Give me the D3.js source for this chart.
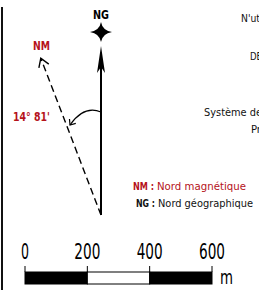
<!DOCTYPE html>
<html>
<head>
<meta charset="utf-8">
<script src="https://cdn.jsdelivr.net/npm/d3@7"></script>
<style>
  body { margin: 0; background: #fff; }
  text { font-family: "DejaVu Sans Condensed", "Liberation Sans Narrow", "Noto Sans", sans-serif; }
</style>
</head>
<body>
<svg id="chart"></svg>
<script>
// scale bar
const SCALE_TICKS = [0, 200, 400, 600];
const SCALE_UNIT = 'm';
const SCALE_FILL = ['black', 'white', 'black'];

// compass
const NORTH_LABELS = ['NG', 'NM'];
const DECLINATION_DEG = 21;       // drawn angle of the NM arrow
const DECLINATION_TEXT = "14° 81'";

// legend
const LEGEND_KEYS = ['NM :', 'NG :'];
const LEGEND_TEXT = ['Nord magnétique', 'Nord géographique'];

// cut off text on the right side
const SIDE_TEXT = ["N'utilisez", 'DE', 'Système de', 'Pr'];

const W = 259, H = 290;
const RED = '#b5121b';

const svg = d3.select('#chart')
  .attr('width', W)
  .attr('height', H);

// squeeze a text to a width, the reference font is a condensed one
function squeeze(sel, w) {
  sel.attr('textLength', w).attr('lengthAdjust', 'spacingAndGlyphs');
}

// frame line on the left
svg.append('line')
  .attr('x1', 2).attr('x2', 2)
  .attr('y1', 7).attr('y2', H)
  .attr('stroke', '#111')
  .attr('stroke-width', 2);

// ---- compass ----
const origin = { x: 101, y: 215 };
const ngTop = 46;
const nmLen = 168;

const rad = d3.scaleLinear().domain([0, 180]).range([0, Math.PI]);
const a = rad(DECLINATION_DEG);
const nmTip = { x: origin.x - nmLen * Math.sin(a), y: origin.y - nmLen * Math.cos(a) };

const compass = svg.append('g');

// geographic north line + filled arrow
compass.append('line')
  .attr('x1', origin.x).attr('x2', origin.x)
  .attr('y1', origin.y).attr('y2', ngTop + 10)
  .attr('stroke', 'black')
  .attr('stroke-width', 2);

compass.append('path')
  .attr('d', `M${origin.x},${ngTop} L${origin.x + 4},${ngTop + 27} L${origin.x},${ngTop + 21} L${origin.x - 4},${ngTop + 27}Z`)
  .attr('fill', 'black');

// star
const sc = { x: 101, y: 32 };
compass.append('path')
  .attr('d', `M${sc.x},${sc.y - 10} Q${sc.x + 1.5},${sc.y - 1.5} ${sc.x + 11},${sc.y}
              Q${sc.x + 1.5},${sc.y + 1.5} ${sc.x},${sc.y + 10}
              Q${sc.x - 1.5},${sc.y + 1.5} ${sc.x - 11},${sc.y}
              Q${sc.x - 1.5},${sc.y - 1.5} ${sc.x},${sc.y - 10}Z`)
  .attr('fill', 'black');

compass.append('text')
  .attr('x', sc.x - 8).attr('y', 19)
  .attr('font-weight', 'bold')
  .attr('font-size', 12)
  .text(NORTH_LABELS[0])
  .call(squeeze, 16);

// magnetic north dashed line + open arrow
compass.append('line')
  .attr('x1', origin.x).attr('y1', origin.y)
  .attr('x2', nmTip.x).attr('y2', nmTip.y)
  .attr('stroke', 'black')
  .attr('stroke-width', 1.4)
  .attr('stroke-dasharray', '7,4');

function chevron(tip, dir, len, spread) {
  const back = Math.atan2(-dir.y, -dir.x);
  const p1 = { x: tip.x + len * Math.cos(back + spread), y: tip.y + len * Math.sin(back + spread) };
  const p2 = { x: tip.x + len * Math.cos(back - spread), y: tip.y + len * Math.sin(back - spread) };
  return `M${p1.x},${p1.y} L${tip.x},${tip.y} L${p2.x},${p2.y}`;
}

compass.append('path')
  .attr('d', chevron(nmTip, { x: nmTip.x - origin.x, y: nmTip.y - origin.y }, 10, rad(32)))
  .attr('fill', 'none')
  .attr('stroke', 'black')
  .attr('stroke-width', 1.4);

compass.append('text')
  .attr('x', 33).attr('y', 50)
  .attr('font-weight', 'bold')
  .attr('font-size', 12)
  .attr('fill', RED)
  .text(NORTH_LABELS[1])
  .call(squeeze, 17);

// angle arc
const arcStart = { x: origin.x, y: 112 };
const arcEnd = { x: 70, y: 125 };
const ctrl = { x: 84, y: 105 };
compass.append('path')
  .attr('d', `M${arcStart.x},${arcStart.y} Q${ctrl.x},${ctrl.y} ${arcEnd.x},${arcEnd.y}`)
  .attr('fill', 'none')
  .attr('stroke', 'black')
  .attr('stroke-width', 1.2);

compass.append('path')
  .attr('d', chevron(arcEnd, { x: arcEnd.x - ctrl.x, y: arcEnd.y - ctrl.y }, 6, rad(40)))
  .attr('fill', 'none')
  .attr('stroke', 'black')
  .attr('stroke-width', 1.2);

compass.append('text')
  .attr('x', 13).attr('y', 121)
  .attr('font-weight', 'bold')
  .attr('font-size', 12)
  .attr('fill', RED)
  .text(DECLINATION_TEXT)
  .call(squeeze, 37);

// ---- legend ----
const legend = svg.append('g');
const legendRows = [
  { x: 133, y: 190, color: RED, keyW: 21, w: 113 },
  { x: 136, y: 207, color: '#111', keyW: 19, w: 117 }
];
legendRows.forEach((r, i) => {
  legend.append('text')
    .attr('x', r.x).attr('y', r.y)
    .attr('font-size', 11)
    .attr('font-weight', 'bold')
    .attr('fill', r.color)
    .text(LEGEND_KEYS[i])
    .call(squeeze, r.keyW);
  legend.append('text')
    .attr('x', r.x + r.keyW + 3).attr('y', r.y)
    .attr('font-size', 11)
    .attr('fill', r.color)
    .text(LEGEND_TEXT[i])
    .call(squeeze, r.w - r.keyW - 3);
});

// ---- side text (clipped by the page edge) ----
const side = svg.append('g')
  .attr('font-size', 11)
  .attr('fill', '#111');
const sidePos = [[241, 22, 42], [250, 60, 12], [204, 116, 58], [251, 133, 10]];
SIDE_TEXT.forEach((s, i) => {
  side.append('text')
    .attr('x', sidePos[i][0]).attr('y', sidePos[i][1])
    .text(s)
    .call(squeeze, sidePos[i][2]);
});

// ---- scale bar ----
const x = d3.scaleLinear()
  .domain([0, d3.max(SCALE_TICKS)])
  .range([25, 212]);

const bar = svg.append('g');
const segs = d3.pairs(SCALE_TICKS);

bar.selectAll('.seg')
  .data(segs)
  .enter()
  .append('rect')
  .classed('seg', true)
  .attr('x', d => x(d[0]))
  .attr('y', 272)
  .attr('width', d => x(d[1]) - x(d[0]))
  .attr('height', 12)
  .attr('fill', (d, i) => SCALE_FILL[i])
  .attr('stroke', 'black')
  .attr('stroke-width', 1);

bar.selectAll('.tick')
  .data(SCALE_TICKS)
  .enter()
  .append('line')
  .classed('tick', true)
  .attr('x1', d => x(d)).attr('x2', d => x(d))
  .attr('y1', 266).attr('y2', 272)
  .attr('stroke', 'black')
  .attr('stroke-width', 1);

bar.selectAll('.label')
  .data(SCALE_TICKS)
  .enter()
  .append('text')
  .classed('label', true)
  .attr('x', d => x(d) - (String(d).length === 1 ? 4 : 13))
  .attr('y', 259)
  .attr('font-size', 22)
  .text(d => d)
  .attr('textLength', d => String(d).length === 1 ? 8 : 26)
  .attr('lengthAdjust', 'spacingAndGlyphs');

bar.append('text')
  .attr('x', x(d3.max(SCALE_TICKS)) + 8)
  .attr('y', 284)
  .attr('font-size', 20)
  .text(SCALE_UNIT)
  .call(squeeze, 13);
</script>
</body>
</html>
